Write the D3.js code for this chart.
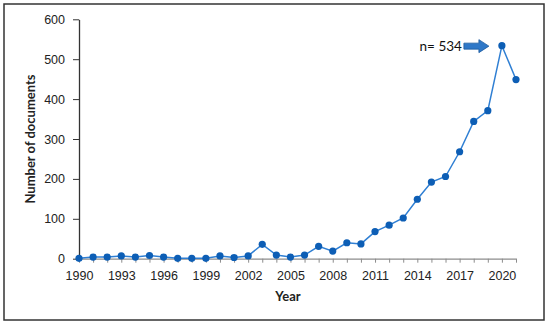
<!DOCTYPE html>
<html>
<head>
<meta charset="utf-8">
<script src="https://cdn.jsdelivr.net/npm/d3@7"></script>
<style>
  body { margin: 0; background: #fff; }
  svg { display: block; font-family: Lato, "Open Sans", sans-serif; }
  .tick text { font-size: 12.5px; fill: #222; }
</style>
</head>
<body>
<svg id="chart" width="550" height="326"></svg>
<script>
// publication counts per year
var years = [1990, 1991, 1992, 1993, 1994, 1995, 1996, 1997, 1998, 1999, 2000,
             2001, 2002, 2003, 2004, 2005, 2006, 2007, 2008, 2009, 2010,
             2011, 2012, 2013, 2014, 2015, 2016, 2017, 2018, 2019, 2020, 2021];
var documents = [1, 4, 4, 7, 4, 8, 4, 1, 1, 1, 7,
                 3, 7, 36, 9, 4, 9, 31, 19, 40, 37,
                 68, 84, 102, 149, 192, 206, 268, 344, 371, 534, 449];
var xTickLabels = [1990, 1993, 1996, 1999, 2002, 2005, 2008, 2011, 2014, 2017, 2020];
var yTickLabels = [0, 100, 200, 300, 400, 500, 600];
var peakLabel = "n= 534";

var svg = d3.select("#chart");

var plotLeft = 79, plotRight = 516, plotTop = 19.3, plotBottom = 258.7;

var x = d3.scaleLinear().domain([1990, 2021]).range([plotLeft, plotRight]);
var y = d3.scaleLinear().domain([0, 600]).range([plotBottom, plotTop]);

// outer frame
svg.append("rect").attr("x", 4).attr("y", 4).attr("width", 540).attr("height", 316)
  .attr("fill", "none").attr("stroke", "#333").attr("stroke-width", 1.5);

// x axis: minor ticks each year, labels every third year
var xAxisG = svg.append("g").attr("transform", "translate(0," + plotBottom + ")");
xAxisG.call(d3.axisBottom(x).tickValues(years).tickSize(4).tickFormat(function(d) {
  return xTickLabels.indexOf(d) >= 0 ? d : "";
}).tickSizeOuter(0));
xAxisG.select(".domain").attr("stroke", "#8c8c8c").attr("stroke-width", 1.2);
xAxisG.selectAll(".tick line").attr("stroke", "#8c8c8c");
xAxisG.selectAll(".tick text").attr("dy", "0.71em").attr("y", 12);

var yAxisG = svg.append("g").attr("transform", "translate(" + plotLeft + ",0)");
yAxisG.call(d3.axisLeft(y).tickValues(yTickLabels).tickSize(6).tickSizeOuter(0));
yAxisG.select(".domain").attr("stroke", "#333").attr("stroke-width", 1.3);
yAxisG.selectAll(".tick line").attr("stroke", "#333");
yAxisG.selectAll(".tick text").attr("x", -14);

// axis titles
svg.append("text").attr("x", 288).attr("y", 301).attr("text-anchor", "middle")
  .attr("font-size", 13).attr("font-weight", "bold").attr("fill", "#222").text("Year");
svg.append("text").attr("transform", "translate(35,139) rotate(-90)")
  .attr("text-anchor", "middle").attr("font-size", 13).attr("font-weight", "bold")
  .attr("fill", "#222").text("Number of documents");

// series
var pts = years.map(function(d, i) { return { year: d, value: documents[i] }; });
var line = d3.line().x(function(d) { return x(d.year); }).y(function(d) { return y(d.value); });

svg.append("path").datum(pts).attr("d", line)
  .attr("fill", "none").attr("stroke", "#2f7fd3").attr("stroke-width", 1.5);

svg.selectAll("circle.pt").data(pts).enter().append("circle").attr("class", "pt")
  .attr("cx", function(d) { return x(d.year); })
  .attr("cy", function(d) { return y(d.value); })
  .attr("r", 3.6).attr("fill", "#0d5eb5");

// peak annotation with block arrow
var peak = pts[documents.indexOf(d3.max(documents))];
var tipX = x(peak.year) - 13, cy = y(peak.value) + 0.5;
var arrow = [
  [tipX - 25, cy - 3], [tipX - 10, cy - 3], [tipX - 10, cy - 6.5], [tipX, cy],
  [tipX - 10, cy + 6.5], [tipX - 10, cy + 3], [tipX - 25, cy + 3]
];
svg.append("path").attr("d", "M" + arrow.join("L") + "Z")
  .attr("fill", "#2e78c8").attr("stroke", "#1d5a9e").attr("stroke-width", 0.8);
svg.append("text").attr("x", tipX - 27).attr("y", cy).attr("dy", "0.35em")
  .attr("text-anchor", "end").attr("font-size", 13.5).attr("fill", "#111").text(peakLabel);
</script>
</body>
</html>
